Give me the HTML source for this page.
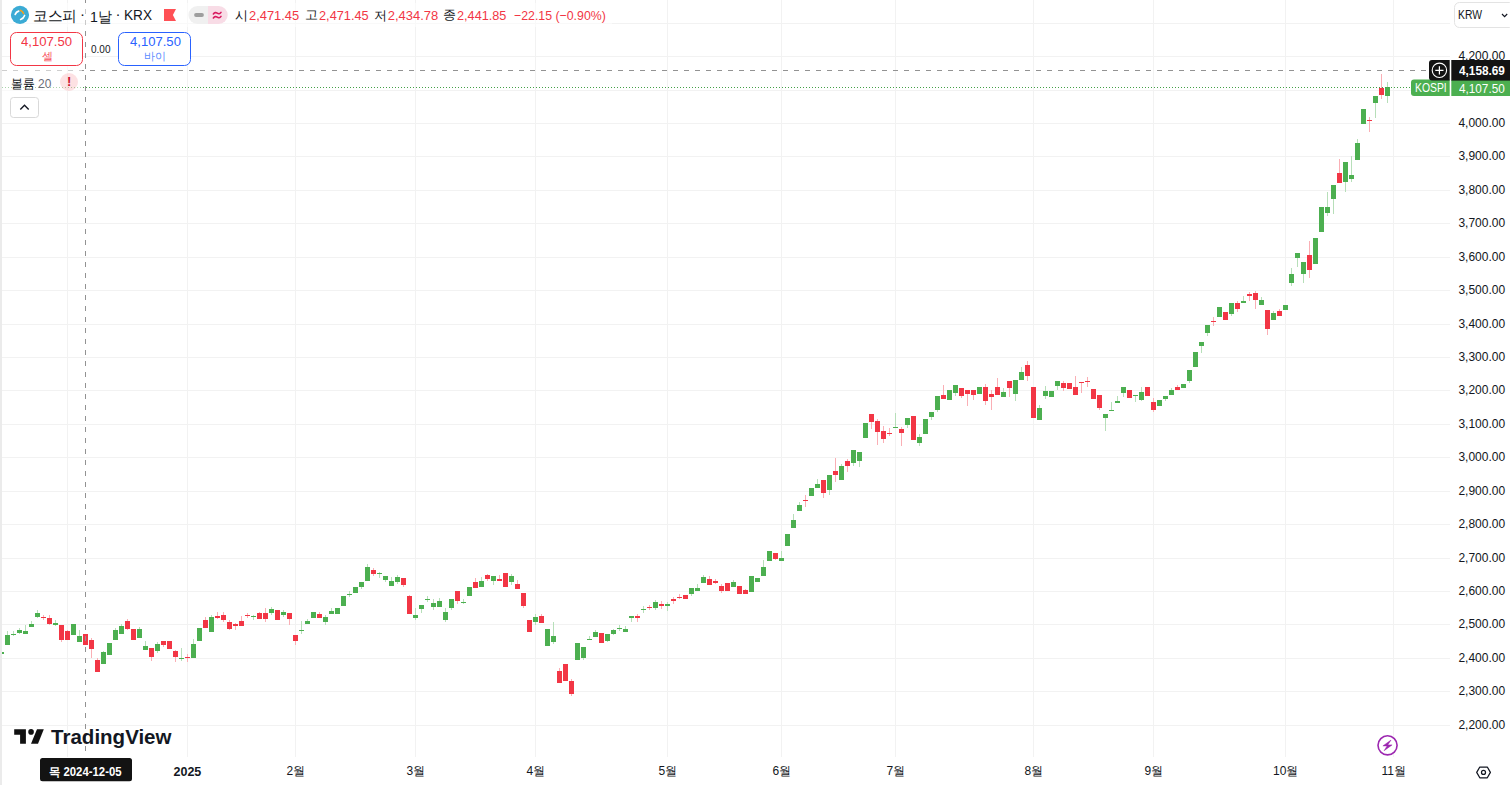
<!DOCTYPE html>
<html><head><meta charset="utf-8">
<style>
html,body{margin:0;padding:0;background:#fff;}
body{width:1510px;height:785px;overflow:hidden;position:relative;font-family:"Liberation Sans",sans-serif;color:#131722;}
.abs{position:absolute;}
.tx{position:absolute;white-space:nowrap;line-height:1;}
</style></head><body>
<svg width="1510" height="785" style="position:absolute;left:0;top:0" shape-rendering="crispEdges">
<defs><clipPath id="pane"><rect x="2" y="0" width="1448" height="757"/></clipPath></defs>
<g clip-path="url(#pane)">
<rect x="2" y="23" width="1448" height="1" fill="#f2f2f2"/>
<rect x="2" y="56" width="1448" height="1" fill="#f2f2f2"/>
<rect x="2" y="90" width="1448" height="1" fill="#f2f2f2"/>
<rect x="2" y="123" width="1448" height="1" fill="#f2f2f2"/>
<rect x="2" y="156" width="1448" height="1" fill="#f2f2f2"/>
<rect x="2" y="190" width="1448" height="1" fill="#f2f2f2"/>
<rect x="2" y="223" width="1448" height="1" fill="#f2f2f2"/>
<rect x="2" y="257" width="1448" height="1" fill="#f2f2f2"/>
<rect x="2" y="290" width="1448" height="1" fill="#f2f2f2"/>
<rect x="2" y="324" width="1448" height="1" fill="#f2f2f2"/>
<rect x="2" y="357" width="1448" height="1" fill="#f2f2f2"/>
<rect x="2" y="390" width="1448" height="1" fill="#f2f2f2"/>
<rect x="2" y="424" width="1448" height="1" fill="#f2f2f2"/>
<rect x="2" y="457" width="1448" height="1" fill="#f2f2f2"/>
<rect x="2" y="491" width="1448" height="1" fill="#f2f2f2"/>
<rect x="2" y="524" width="1448" height="1" fill="#f2f2f2"/>
<rect x="2" y="558" width="1448" height="1" fill="#f2f2f2"/>
<rect x="2" y="591" width="1448" height="1" fill="#f2f2f2"/>
<rect x="2" y="624" width="1448" height="1" fill="#f2f2f2"/>
<rect x="2" y="658" width="1448" height="1" fill="#f2f2f2"/>
<rect x="2" y="691" width="1448" height="1" fill="#f2f2f2"/>
<rect x="2" y="725" width="1448" height="1" fill="#f2f2f2"/>
<rect x="67" y="0" width="1" height="757" fill="#f2f2f2"/>
<rect x="187" y="0" width="1" height="757" fill="#f2f2f2"/>
<rect x="295" y="0" width="1" height="757" fill="#f2f2f2"/>
<rect x="415" y="0" width="1" height="757" fill="#f2f2f2"/>
<rect x="535" y="0" width="1" height="757" fill="#f2f2f2"/>
<rect x="667" y="0" width="1" height="757" fill="#f2f2f2"/>
<rect x="781" y="0" width="1" height="757" fill="#f2f2f2"/>
<rect x="895" y="0" width="1" height="757" fill="#f2f2f2"/>
<rect x="1033" y="0" width="1" height="757" fill="#f2f2f2"/>
<rect x="1153" y="0" width="1" height="757" fill="#f2f2f2"/>
<rect x="1285" y="0" width="1" height="757" fill="#f2f2f2"/>
<rect x="1393" y="0" width="1" height="757" fill="#f2f2f2"/>
<rect x="-1" y="652" width="5" height="2" fill="#4caf50"/>
<rect x="7" y="631" width="1" height="4" fill="#b7dfb9"/>
<rect x="5" y="635" width="5" height="10" fill="#4caf50"/>
<rect x="13" y="631" width="1" height="3" fill="#b7dfb9"/>
<rect x="13" y="635" width="1" height="1" fill="#b7dfb9"/>
<rect x="11" y="634" width="5" height="1" fill="#4caf50"/>
<rect x="19" y="628" width="1" height="2" fill="#b7dfb9"/>
<rect x="19" y="633" width="1" height="1" fill="#b7dfb9"/>
<rect x="17" y="630" width="5" height="3" fill="#4caf50"/>
<rect x="25" y="625" width="1" height="6" fill="#b7dfb9"/>
<rect x="23" y="631" width="5" height="3" fill="#4caf50"/>
<rect x="31" y="621" width="1" height="3" fill="#b7dfb9"/>
<rect x="29" y="624" width="5" height="3" fill="#4caf50"/>
<rect x="37" y="610" width="1" height="3" fill="#b7dfb9"/>
<rect x="37" y="617" width="1" height="1" fill="#b7dfb9"/>
<rect x="35" y="613" width="5" height="4" fill="#4caf50"/>
<rect x="43" y="615" width="1" height="2" fill="#faafb5"/>
<rect x="43" y="618" width="1" height="2" fill="#faafb5"/>
<rect x="41" y="617" width="5" height="1" fill="#f23645"/>
<rect x="49" y="615" width="1" height="3" fill="#faafb5"/>
<rect x="49" y="624" width="1" height="1" fill="#faafb5"/>
<rect x="47" y="618" width="5" height="6" fill="#f23645"/>
<rect x="55" y="620" width="1" height="3" fill="#b7dfb9"/>
<rect x="55" y="625" width="1" height="1" fill="#b7dfb9"/>
<rect x="53" y="623" width="5" height="2" fill="#4caf50"/>
<rect x="61" y="640" width="1" height="2" fill="#faafb5"/>
<rect x="59" y="625" width="5" height="15" fill="#f23645"/>
<rect x="67" y="630" width="1" height="1" fill="#faafb5"/>
<rect x="65" y="631" width="5" height="9" fill="#f23645"/>
<rect x="71" y="624" width="5" height="11" fill="#4caf50"/>
<rect x="79" y="630" width="1" height="6" fill="#b7dfb9"/>
<rect x="77" y="636" width="5" height="6" fill="#4caf50"/>
<rect x="83" y="634" width="5" height="11" fill="#f23645"/>
<rect x="91" y="638" width="1" height="2" fill="#faafb5"/>
<rect x="91" y="649" width="1" height="9" fill="#faafb5"/>
<rect x="89" y="640" width="5" height="9" fill="#f23645"/>
<rect x="97" y="658" width="1" height="2" fill="#faafb5"/>
<rect x="95" y="660" width="5" height="12" fill="#f23645"/>
<rect x="103" y="651" width="1" height="1" fill="#b7dfb9"/>
<rect x="101" y="652" width="5" height="12" fill="#4caf50"/>
<rect x="107" y="643" width="5" height="12" fill="#4caf50"/>
<rect x="115" y="628" width="1" height="2" fill="#b7dfb9"/>
<rect x="113" y="630" width="5" height="10" fill="#4caf50"/>
<rect x="121" y="624" width="1" height="2" fill="#b7dfb9"/>
<rect x="119" y="626" width="5" height="8" fill="#4caf50"/>
<rect x="127" y="619" width="1" height="2" fill="#faafb5"/>
<rect x="127" y="629" width="1" height="1" fill="#faafb5"/>
<rect x="125" y="621" width="5" height="8" fill="#f23645"/>
<rect x="131" y="629" width="5" height="11" fill="#f23645"/>
<rect x="139" y="627" width="1" height="2" fill="#b7dfb9"/>
<rect x="137" y="629" width="5" height="9" fill="#4caf50"/>
<rect x="145" y="641" width="1" height="5" fill="#b7dfb9"/>
<rect x="143" y="646" width="5" height="4" fill="#4caf50"/>
<rect x="151" y="657" width="1" height="4" fill="#faafb5"/>
<rect x="149" y="648" width="5" height="9" fill="#f23645"/>
<rect x="157" y="642" width="1" height="2" fill="#b7dfb9"/>
<rect x="157" y="651" width="1" height="2" fill="#b7dfb9"/>
<rect x="155" y="644" width="5" height="7" fill="#4caf50"/>
<rect x="163" y="645" width="1" height="2" fill="#faafb5"/>
<rect x="161" y="641" width="5" height="4" fill="#f23645"/>
<rect x="167" y="641" width="5" height="8" fill="#f23645"/>
<rect x="175" y="650" width="1" height="1" fill="#faafb5"/>
<rect x="175" y="657" width="1" height="5" fill="#faafb5"/>
<rect x="173" y="651" width="5" height="6" fill="#f23645"/>
<rect x="181" y="648" width="1" height="10" fill="#b7dfb9"/>
<rect x="181" y="659" width="1" height="2" fill="#b7dfb9"/>
<rect x="179" y="658" width="5" height="1" fill="#4caf50"/>
<rect x="187" y="654" width="1" height="3" fill="#faafb5"/>
<rect x="187" y="658" width="1" height="4" fill="#faafb5"/>
<rect x="185" y="657" width="5" height="1" fill="#f23645"/>
<rect x="193" y="639" width="1" height="5" fill="#b7dfb9"/>
<rect x="191" y="644" width="5" height="14" fill="#4caf50"/>
<rect x="197" y="628" width="5" height="13" fill="#4caf50"/>
<rect x="205" y="617" width="1" height="3" fill="#faafb5"/>
<rect x="203" y="620" width="5" height="8" fill="#f23645"/>
<rect x="211" y="615" width="1" height="2" fill="#b7dfb9"/>
<rect x="209" y="617" width="5" height="15" fill="#4caf50"/>
<rect x="217" y="612" width="1" height="4" fill="#faafb5"/>
<rect x="217" y="618" width="1" height="1" fill="#faafb5"/>
<rect x="215" y="616" width="5" height="2" fill="#f23645"/>
<rect x="223" y="612" width="1" height="3" fill="#faafb5"/>
<rect x="223" y="620" width="1" height="2" fill="#faafb5"/>
<rect x="221" y="615" width="5" height="5" fill="#f23645"/>
<rect x="229" y="620" width="1" height="2" fill="#faafb5"/>
<rect x="229" y="629" width="1" height="1" fill="#faafb5"/>
<rect x="227" y="622" width="5" height="7" fill="#f23645"/>
<rect x="235" y="623" width="1" height="1" fill="#faafb5"/>
<rect x="235" y="626" width="1" height="4" fill="#faafb5"/>
<rect x="233" y="624" width="5" height="2" fill="#f23645"/>
<rect x="241" y="616" width="1" height="5" fill="#faafb5"/>
<rect x="239" y="621" width="5" height="5" fill="#f23645"/>
<rect x="247" y="613" width="1" height="2" fill="#faafb5"/>
<rect x="247" y="616" width="1" height="2" fill="#faafb5"/>
<rect x="245" y="615" width="5" height="1" fill="#f23645"/>
<rect x="253" y="615" width="1" height="1" fill="#b7dfb9"/>
<rect x="253" y="617" width="1" height="3" fill="#b7dfb9"/>
<rect x="251" y="616" width="5" height="1" fill="#4caf50"/>
<rect x="259" y="612" width="1" height="1" fill="#faafb5"/>
<rect x="257" y="613" width="5" height="6" fill="#f23645"/>
<rect x="265" y="608" width="1" height="5" fill="#faafb5"/>
<rect x="265" y="619" width="1" height="3" fill="#faafb5"/>
<rect x="263" y="613" width="5" height="6" fill="#f23645"/>
<rect x="271" y="607" width="1" height="2" fill="#b7dfb9"/>
<rect x="271" y="613" width="1" height="2" fill="#b7dfb9"/>
<rect x="269" y="609" width="5" height="4" fill="#4caf50"/>
<rect x="275" y="610" width="5" height="10" fill="#f23645"/>
<rect x="283" y="610" width="1" height="2" fill="#b7dfb9"/>
<rect x="283" y="615" width="1" height="2" fill="#b7dfb9"/>
<rect x="281" y="612" width="5" height="3" fill="#4caf50"/>
<rect x="289" y="619" width="1" height="6" fill="#faafb5"/>
<rect x="287" y="613" width="5" height="6" fill="#f23645"/>
<rect x="295" y="641" width="1" height="4" fill="#faafb5"/>
<rect x="293" y="635" width="5" height="6" fill="#f23645"/>
<rect x="301" y="621" width="1" height="9" fill="#b7dfb9"/>
<rect x="301" y="631" width="1" height="3" fill="#b7dfb9"/>
<rect x="299" y="630" width="5" height="1" fill="#4caf50"/>
<rect x="307" y="619" width="1" height="2" fill="#b7dfb9"/>
<rect x="305" y="621" width="5" height="3" fill="#4caf50"/>
<rect x="311" y="612" width="5" height="6" fill="#4caf50"/>
<rect x="319" y="612" width="1" height="2" fill="#faafb5"/>
<rect x="317" y="614" width="5" height="4" fill="#f23645"/>
<rect x="325" y="615" width="1" height="2" fill="#b7dfb9"/>
<rect x="325" y="622" width="1" height="3" fill="#b7dfb9"/>
<rect x="323" y="617" width="5" height="5" fill="#4caf50"/>
<rect x="331" y="608" width="1" height="3" fill="#b7dfb9"/>
<rect x="329" y="611" width="5" height="3" fill="#4caf50"/>
<rect x="335" y="608" width="5" height="6" fill="#4caf50"/>
<rect x="341" y="596" width="5" height="10" fill="#4caf50"/>
<rect x="349" y="591" width="1" height="3" fill="#b7dfb9"/>
<rect x="349" y="595" width="1" height="2" fill="#b7dfb9"/>
<rect x="347" y="594" width="5" height="1" fill="#4caf50"/>
<rect x="353" y="587" width="5" height="6" fill="#4caf50"/>
<rect x="361" y="587" width="1" height="2" fill="#b7dfb9"/>
<rect x="359" y="582" width="5" height="5" fill="#4caf50"/>
<rect x="367" y="564" width="1" height="3" fill="#b7dfb9"/>
<rect x="365" y="567" width="5" height="14" fill="#4caf50"/>
<rect x="373" y="568" width="1" height="2" fill="#faafb5"/>
<rect x="373" y="574" width="1" height="2" fill="#faafb5"/>
<rect x="371" y="570" width="5" height="4" fill="#f23645"/>
<rect x="379" y="572" width="1" height="1" fill="#b7dfb9"/>
<rect x="379" y="574" width="1" height="4" fill="#b7dfb9"/>
<rect x="377" y="573" width="5" height="1" fill="#4caf50"/>
<rect x="385" y="580" width="1" height="2" fill="#b7dfb9"/>
<rect x="383" y="576" width="5" height="4" fill="#4caf50"/>
<rect x="391" y="577" width="1" height="4" fill="#b7dfb9"/>
<rect x="389" y="581" width="5" height="5" fill="#4caf50"/>
<rect x="397" y="575" width="1" height="2" fill="#b7dfb9"/>
<rect x="397" y="582" width="1" height="2" fill="#b7dfb9"/>
<rect x="395" y="577" width="5" height="5" fill="#4caf50"/>
<rect x="403" y="585" width="1" height="2" fill="#faafb5"/>
<rect x="401" y="578" width="5" height="7" fill="#f23645"/>
<rect x="409" y="595" width="1" height="1" fill="#faafb5"/>
<rect x="407" y="596" width="5" height="18" fill="#f23645"/>
<rect x="415" y="608" width="1" height="7" fill="#b7dfb9"/>
<rect x="415" y="618" width="1" height="2" fill="#b7dfb9"/>
<rect x="413" y="615" width="5" height="3" fill="#4caf50"/>
<rect x="421" y="609" width="1" height="4" fill="#b7dfb9"/>
<rect x="419" y="605" width="5" height="4" fill="#4caf50"/>
<rect x="427" y="596" width="1" height="3" fill="#b7dfb9"/>
<rect x="427" y="600" width="1" height="2" fill="#b7dfb9"/>
<rect x="425" y="599" width="5" height="1" fill="#4caf50"/>
<rect x="433" y="599" width="1" height="4" fill="#b7dfb9"/>
<rect x="433" y="607" width="1" height="3" fill="#b7dfb9"/>
<rect x="431" y="603" width="5" height="4" fill="#4caf50"/>
<rect x="439" y="598" width="1" height="3" fill="#b7dfb9"/>
<rect x="437" y="601" width="5" height="6" fill="#4caf50"/>
<rect x="445" y="608" width="1" height="4" fill="#b7dfb9"/>
<rect x="445" y="620" width="1" height="2" fill="#b7dfb9"/>
<rect x="443" y="612" width="5" height="8" fill="#4caf50"/>
<rect x="451" y="608" width="1" height="2" fill="#b7dfb9"/>
<rect x="449" y="599" width="5" height="9" fill="#4caf50"/>
<rect x="457" y="601" width="1" height="3" fill="#faafb5"/>
<rect x="455" y="591" width="5" height="10" fill="#f23645"/>
<rect x="463" y="599" width="1" height="3" fill="#b7dfb9"/>
<rect x="463" y="603" width="1" height="1" fill="#b7dfb9"/>
<rect x="461" y="602" width="5" height="1" fill="#4caf50"/>
<rect x="467" y="587" width="5" height="9" fill="#4caf50"/>
<rect x="475" y="578" width="1" height="4" fill="#faafb5"/>
<rect x="473" y="582" width="5" height="6" fill="#f23645"/>
<rect x="481" y="577" width="1" height="4" fill="#b7dfb9"/>
<rect x="479" y="581" width="5" height="6" fill="#4caf50"/>
<rect x="487" y="574" width="1" height="1" fill="#faafb5"/>
<rect x="487" y="579" width="1" height="2" fill="#faafb5"/>
<rect x="485" y="575" width="5" height="4" fill="#f23645"/>
<rect x="493" y="581" width="1" height="4" fill="#b7dfb9"/>
<rect x="491" y="576" width="5" height="5" fill="#4caf50"/>
<rect x="499" y="575" width="1" height="4" fill="#faafb5"/>
<rect x="497" y="579" width="5" height="2" fill="#f23645"/>
<rect x="503" y="573" width="5" height="14" fill="#f23645"/>
<rect x="511" y="574" width="1" height="2" fill="#b7dfb9"/>
<rect x="511" y="582" width="1" height="3" fill="#b7dfb9"/>
<rect x="509" y="576" width="5" height="6" fill="#4caf50"/>
<rect x="517" y="580" width="1" height="4" fill="#faafb5"/>
<rect x="515" y="584" width="5" height="5" fill="#f23645"/>
<rect x="523" y="606" width="1" height="2" fill="#faafb5"/>
<rect x="521" y="593" width="5" height="13" fill="#f23645"/>
<rect x="527" y="620" width="5" height="12" fill="#f23645"/>
<rect x="535" y="614" width="1" height="3" fill="#b7dfb9"/>
<rect x="535" y="622" width="1" height="3" fill="#b7dfb9"/>
<rect x="533" y="617" width="5" height="5" fill="#4caf50"/>
<rect x="541" y="614" width="1" height="2" fill="#faafb5"/>
<rect x="539" y="616" width="5" height="7" fill="#f23645"/>
<rect x="545" y="629" width="5" height="17" fill="#4caf50"/>
<rect x="553" y="622" width="1" height="14" fill="#b7dfb9"/>
<rect x="553" y="642" width="1" height="2" fill="#b7dfb9"/>
<rect x="551" y="636" width="5" height="6" fill="#4caf50"/>
<rect x="559" y="668" width="1" height="3" fill="#faafb5"/>
<rect x="557" y="671" width="5" height="12" fill="#f23645"/>
<rect x="563" y="664" width="5" height="17" fill="#f23645"/>
<rect x="571" y="679" width="1" height="2" fill="#faafb5"/>
<rect x="571" y="694" width="1" height="2" fill="#faafb5"/>
<rect x="569" y="681" width="5" height="13" fill="#f23645"/>
<rect x="575" y="643" width="5" height="17" fill="#4caf50"/>
<rect x="583" y="658" width="1" height="2" fill="#b7dfb9"/>
<rect x="581" y="647" width="5" height="11" fill="#4caf50"/>
<rect x="589" y="636" width="1" height="3" fill="#b7dfb9"/>
<rect x="587" y="639" width="5" height="1" fill="#4caf50"/>
<rect x="595" y="630" width="1" height="2" fill="#b7dfb9"/>
<rect x="593" y="632" width="5" height="5" fill="#4caf50"/>
<rect x="599" y="633" width="5" height="10" fill="#f23645"/>
<rect x="607" y="641" width="1" height="1" fill="#b7dfb9"/>
<rect x="605" y="634" width="5" height="7" fill="#4caf50"/>
<rect x="613" y="629" width="1" height="1" fill="#b7dfb9"/>
<rect x="613" y="634" width="1" height="1" fill="#b7dfb9"/>
<rect x="611" y="630" width="5" height="4" fill="#4caf50"/>
<rect x="619" y="625" width="1" height="3" fill="#b7dfb9"/>
<rect x="619" y="629" width="1" height="2" fill="#b7dfb9"/>
<rect x="617" y="628" width="5" height="1" fill="#4caf50"/>
<rect x="625" y="626" width="1" height="3" fill="#b7dfb9"/>
<rect x="623" y="629" width="5" height="3" fill="#4caf50"/>
<rect x="631" y="618" width="1" height="4" fill="#b7dfb9"/>
<rect x="629" y="616" width="5" height="2" fill="#4caf50"/>
<rect x="637" y="614" width="1" height="2" fill="#faafb5"/>
<rect x="637" y="618" width="1" height="4" fill="#faafb5"/>
<rect x="635" y="616" width="5" height="2" fill="#f23645"/>
<rect x="643" y="606" width="1" height="3" fill="#b7dfb9"/>
<rect x="643" y="610" width="1" height="3" fill="#b7dfb9"/>
<rect x="641" y="609" width="5" height="1" fill="#4caf50"/>
<rect x="649" y="605" width="1" height="2" fill="#faafb5"/>
<rect x="649" y="608" width="1" height="2" fill="#faafb5"/>
<rect x="647" y="607" width="5" height="1" fill="#f23645"/>
<rect x="655" y="600" width="1" height="2" fill="#b7dfb9"/>
<rect x="655" y="608" width="1" height="2" fill="#b7dfb9"/>
<rect x="653" y="602" width="5" height="6" fill="#4caf50"/>
<rect x="661" y="601" width="1" height="3" fill="#faafb5"/>
<rect x="661" y="606" width="1" height="3" fill="#faafb5"/>
<rect x="659" y="604" width="5" height="2" fill="#f23645"/>
<rect x="667" y="602" width="1" height="2" fill="#b7dfb9"/>
<rect x="667" y="606" width="1" height="5" fill="#b7dfb9"/>
<rect x="665" y="604" width="5" height="2" fill="#4caf50"/>
<rect x="673" y="597" width="1" height="2" fill="#faafb5"/>
<rect x="673" y="601" width="1" height="3" fill="#faafb5"/>
<rect x="671" y="599" width="5" height="2" fill="#f23645"/>
<rect x="679" y="594" width="1" height="3" fill="#faafb5"/>
<rect x="679" y="598" width="1" height="1" fill="#faafb5"/>
<rect x="677" y="597" width="5" height="1" fill="#f23645"/>
<rect x="683" y="595" width="5" height="4" fill="#f23645"/>
<rect x="691" y="594" width="1" height="2" fill="#b7dfb9"/>
<rect x="689" y="588" width="5" height="6" fill="#4caf50"/>
<rect x="697" y="584" width="1" height="4" fill="#b7dfb9"/>
<rect x="695" y="588" width="5" height="3" fill="#4caf50"/>
<rect x="703" y="575" width="1" height="2" fill="#b7dfb9"/>
<rect x="701" y="577" width="5" height="6" fill="#4caf50"/>
<rect x="709" y="576" width="1" height="3" fill="#faafb5"/>
<rect x="707" y="579" width="5" height="6" fill="#f23645"/>
<rect x="715" y="579" width="1" height="2" fill="#faafb5"/>
<rect x="715" y="583" width="1" height="1" fill="#faafb5"/>
<rect x="713" y="581" width="5" height="2" fill="#f23645"/>
<rect x="721" y="584" width="1" height="2" fill="#faafb5"/>
<rect x="721" y="591" width="1" height="2" fill="#faafb5"/>
<rect x="719" y="586" width="5" height="5" fill="#f23645"/>
<rect x="725" y="583" width="5" height="8" fill="#f23645"/>
<rect x="733" y="580" width="1" height="2" fill="#b7dfb9"/>
<rect x="731" y="582" width="5" height="5" fill="#4caf50"/>
<rect x="737" y="586" width="5" height="8" fill="#f23645"/>
<rect x="745" y="589" width="1" height="1" fill="#faafb5"/>
<rect x="743" y="590" width="5" height="4" fill="#f23645"/>
<rect x="749" y="576" width="5" height="16" fill="#4caf50"/>
<rect x="755" y="578" width="5" height="4" fill="#4caf50"/>
<rect x="763" y="560" width="1" height="7" fill="#b7dfb9"/>
<rect x="761" y="567" width="5" height="9" fill="#4caf50"/>
<rect x="767" y="551" width="5" height="10" fill="#4caf50"/>
<rect x="775" y="559" width="1" height="1" fill="#faafb5"/>
<rect x="773" y="553" width="5" height="6" fill="#f23645"/>
<rect x="781" y="551" width="1" height="7" fill="#b7dfb9"/>
<rect x="779" y="558" width="5" height="3" fill="#4caf50"/>
<rect x="785" y="534" width="5" height="12" fill="#4caf50"/>
<rect x="793" y="514" width="1" height="6" fill="#b7dfb9"/>
<rect x="791" y="520" width="5" height="8" fill="#4caf50"/>
<rect x="799" y="502" width="1" height="3" fill="#b7dfb9"/>
<rect x="797" y="505" width="5" height="6" fill="#4caf50"/>
<rect x="805" y="495" width="1" height="5" fill="#faafb5"/>
<rect x="805" y="501" width="1" height="6" fill="#faafb5"/>
<rect x="803" y="500" width="5" height="1" fill="#f23645"/>
<rect x="809" y="488" width="5" height="8" fill="#4caf50"/>
<rect x="817" y="479" width="1" height="5" fill="#b7dfb9"/>
<rect x="815" y="484" width="5" height="4" fill="#4caf50"/>
<rect x="823" y="493" width="1" height="5" fill="#faafb5"/>
<rect x="821" y="480" width="5" height="13" fill="#f23645"/>
<rect x="829" y="490" width="1" height="5" fill="#b7dfb9"/>
<rect x="827" y="475" width="5" height="15" fill="#4caf50"/>
<rect x="835" y="458" width="1" height="13" fill="#faafb5"/>
<rect x="835" y="475" width="1" height="7" fill="#faafb5"/>
<rect x="833" y="471" width="5" height="4" fill="#f23645"/>
<rect x="841" y="464" width="1" height="2" fill="#b7dfb9"/>
<rect x="839" y="466" width="5" height="14" fill="#4caf50"/>
<rect x="847" y="459" width="1" height="2" fill="#faafb5"/>
<rect x="847" y="466" width="1" height="6" fill="#faafb5"/>
<rect x="845" y="461" width="5" height="5" fill="#f23645"/>
<rect x="853" y="463" width="1" height="3" fill="#b7dfb9"/>
<rect x="851" y="450" width="5" height="13" fill="#4caf50"/>
<rect x="859" y="461" width="1" height="6" fill="#b7dfb9"/>
<rect x="857" y="452" width="5" height="9" fill="#4caf50"/>
<rect x="863" y="423" width="5" height="15" fill="#4caf50"/>
<rect x="871" y="422" width="1" height="7" fill="#faafb5"/>
<rect x="869" y="414" width="5" height="8" fill="#f23645"/>
<rect x="877" y="419" width="1" height="2" fill="#faafb5"/>
<rect x="877" y="432" width="1" height="13" fill="#faafb5"/>
<rect x="875" y="421" width="5" height="11" fill="#f23645"/>
<rect x="883" y="426" width="1" height="5" fill="#faafb5"/>
<rect x="883" y="439" width="1" height="4" fill="#faafb5"/>
<rect x="881" y="431" width="5" height="8" fill="#f23645"/>
<rect x="889" y="428" width="1" height="5" fill="#faafb5"/>
<rect x="889" y="434" width="1" height="2" fill="#faafb5"/>
<rect x="887" y="433" width="5" height="1" fill="#f23645"/>
<rect x="895" y="413" width="1" height="14" fill="#b7dfb9"/>
<rect x="893" y="427" width="5" height="1" fill="#4caf50"/>
<rect x="901" y="427" width="1" height="2" fill="#faafb5"/>
<rect x="901" y="433" width="1" height="13" fill="#faafb5"/>
<rect x="899" y="429" width="5" height="4" fill="#f23645"/>
<rect x="907" y="425" width="1" height="3" fill="#b7dfb9"/>
<rect x="905" y="418" width="5" height="7" fill="#4caf50"/>
<rect x="911" y="416" width="5" height="24" fill="#f23645"/>
<rect x="919" y="434" width="1" height="3" fill="#b7dfb9"/>
<rect x="919" y="443" width="1" height="3" fill="#b7dfb9"/>
<rect x="917" y="437" width="5" height="6" fill="#4caf50"/>
<rect x="923" y="419" width="5" height="15" fill="#4caf50"/>
<rect x="931" y="417" width="1" height="3" fill="#b7dfb9"/>
<rect x="929" y="412" width="5" height="5" fill="#4caf50"/>
<rect x="937" y="410" width="1" height="2" fill="#b7dfb9"/>
<rect x="935" y="396" width="5" height="14" fill="#4caf50"/>
<rect x="943" y="385" width="1" height="10" fill="#faafb5"/>
<rect x="941" y="395" width="5" height="4" fill="#f23645"/>
<rect x="947" y="390" width="5" height="10" fill="#4caf50"/>
<rect x="955" y="393" width="1" height="3" fill="#b7dfb9"/>
<rect x="953" y="385" width="5" height="8" fill="#4caf50"/>
<rect x="961" y="396" width="1" height="2" fill="#faafb5"/>
<rect x="959" y="388" width="5" height="8" fill="#f23645"/>
<rect x="967" y="394" width="1" height="12" fill="#faafb5"/>
<rect x="965" y="390" width="5" height="4" fill="#f23645"/>
<rect x="973" y="395" width="1" height="5" fill="#faafb5"/>
<rect x="971" y="390" width="5" height="5" fill="#f23645"/>
<rect x="977" y="387" width="5" height="7" fill="#4caf50"/>
<rect x="985" y="384" width="1" height="3" fill="#faafb5"/>
<rect x="985" y="401" width="1" height="4" fill="#faafb5"/>
<rect x="983" y="387" width="5" height="14" fill="#f23645"/>
<rect x="991" y="390" width="1" height="4" fill="#faafb5"/>
<rect x="991" y="397" width="1" height="13" fill="#faafb5"/>
<rect x="989" y="394" width="5" height="3" fill="#f23645"/>
<rect x="997" y="378" width="1" height="9" fill="#faafb5"/>
<rect x="995" y="387" width="5" height="8" fill="#f23645"/>
<rect x="1003" y="388" width="1" height="4" fill="#b7dfb9"/>
<rect x="1001" y="392" width="5" height="5" fill="#4caf50"/>
<rect x="1009" y="388" width="1" height="9" fill="#faafb5"/>
<rect x="1007" y="381" width="5" height="7" fill="#f23645"/>
<rect x="1015" y="394" width="1" height="7" fill="#b7dfb9"/>
<rect x="1013" y="380" width="5" height="14" fill="#4caf50"/>
<rect x="1021" y="367" width="1" height="5" fill="#b7dfb9"/>
<rect x="1019" y="372" width="5" height="8" fill="#4caf50"/>
<rect x="1027" y="361" width="1" height="4" fill="#faafb5"/>
<rect x="1027" y="376" width="1" height="5" fill="#faafb5"/>
<rect x="1025" y="365" width="5" height="11" fill="#f23645"/>
<rect x="1031" y="387" width="5" height="31" fill="#f23645"/>
<rect x="1039" y="405" width="1" height="3" fill="#b7dfb9"/>
<rect x="1037" y="408" width="5" height="12" fill="#4caf50"/>
<rect x="1045" y="386" width="1" height="5" fill="#b7dfb9"/>
<rect x="1045" y="396" width="1" height="3" fill="#b7dfb9"/>
<rect x="1043" y="391" width="5" height="5" fill="#4caf50"/>
<rect x="1049" y="391" width="5" height="6" fill="#4caf50"/>
<rect x="1057" y="386" width="1" height="4" fill="#b7dfb9"/>
<rect x="1055" y="381" width="5" height="5" fill="#4caf50"/>
<rect x="1063" y="381" width="1" height="2" fill="#faafb5"/>
<rect x="1063" y="388" width="1" height="3" fill="#faafb5"/>
<rect x="1061" y="383" width="5" height="5" fill="#f23645"/>
<rect x="1067" y="383" width="5" height="6" fill="#f23645"/>
<rect x="1075" y="376" width="1" height="11" fill="#faafb5"/>
<rect x="1073" y="387" width="5" height="8" fill="#f23645"/>
<rect x="1081" y="383" width="1" height="10" fill="#faafb5"/>
<rect x="1079" y="382" width="5" height="1" fill="#f23645"/>
<rect x="1087" y="377" width="1" height="4" fill="#faafb5"/>
<rect x="1087" y="382" width="1" height="5" fill="#faafb5"/>
<rect x="1085" y="381" width="5" height="1" fill="#f23645"/>
<rect x="1091" y="389" width="5" height="10" fill="#f23645"/>
<rect x="1099" y="408" width="1" height="2" fill="#faafb5"/>
<rect x="1097" y="395" width="5" height="13" fill="#f23645"/>
<rect x="1105" y="418" width="1" height="13" fill="#b7dfb9"/>
<rect x="1103" y="414" width="5" height="4" fill="#4caf50"/>
<rect x="1111" y="402" width="1" height="8" fill="#b7dfb9"/>
<rect x="1109" y="410" width="5" height="1" fill="#4caf50"/>
<rect x="1117" y="396" width="1" height="5" fill="#b7dfb9"/>
<rect x="1115" y="401" width="5" height="2" fill="#4caf50"/>
<rect x="1123" y="393" width="1" height="4" fill="#b7dfb9"/>
<rect x="1121" y="387" width="5" height="6" fill="#4caf50"/>
<rect x="1127" y="390" width="5" height="8" fill="#f23645"/>
<rect x="1135" y="396" width="1" height="6" fill="#b7dfb9"/>
<rect x="1133" y="395" width="5" height="1" fill="#4caf50"/>
<rect x="1141" y="387" width="1" height="5" fill="#b7dfb9"/>
<rect x="1141" y="400" width="1" height="1" fill="#b7dfb9"/>
<rect x="1139" y="392" width="5" height="8" fill="#4caf50"/>
<rect x="1145" y="387" width="5" height="9" fill="#f23645"/>
<rect x="1153" y="398" width="1" height="4" fill="#faafb5"/>
<rect x="1153" y="410" width="1" height="2" fill="#faafb5"/>
<rect x="1151" y="402" width="5" height="8" fill="#f23645"/>
<rect x="1157" y="400" width="5" height="6" fill="#4caf50"/>
<rect x="1165" y="399" width="1" height="2" fill="#b7dfb9"/>
<rect x="1163" y="396" width="5" height="3" fill="#4caf50"/>
<rect x="1171" y="388" width="1" height="2" fill="#b7dfb9"/>
<rect x="1169" y="390" width="5" height="5" fill="#4caf50"/>
<rect x="1177" y="385" width="1" height="2" fill="#faafb5"/>
<rect x="1175" y="387" width="5" height="3" fill="#f23645"/>
<rect x="1181" y="384" width="5" height="4" fill="#4caf50"/>
<rect x="1189" y="381" width="1" height="2" fill="#b7dfb9"/>
<rect x="1187" y="370" width="5" height="11" fill="#4caf50"/>
<rect x="1193" y="352" width="5" height="15" fill="#4caf50"/>
<rect x="1201" y="346" width="1" height="7" fill="#b7dfb9"/>
<rect x="1199" y="342" width="5" height="4" fill="#4caf50"/>
<rect x="1207" y="333" width="1" height="3" fill="#b7dfb9"/>
<rect x="1205" y="325" width="5" height="8" fill="#4caf50"/>
<rect x="1213" y="317" width="1" height="4" fill="#faafb5"/>
<rect x="1213" y="322" width="1" height="4" fill="#faafb5"/>
<rect x="1211" y="321" width="5" height="1" fill="#f23645"/>
<rect x="1217" y="307" width="5" height="10" fill="#4caf50"/>
<rect x="1223" y="312" width="5" height="8" fill="#f23645"/>
<rect x="1231" y="314" width="1" height="2" fill="#b7dfb9"/>
<rect x="1229" y="303" width="5" height="11" fill="#4caf50"/>
<rect x="1237" y="301" width="1" height="2" fill="#faafb5"/>
<rect x="1237" y="309" width="1" height="3" fill="#faafb5"/>
<rect x="1235" y="303" width="5" height="6" fill="#f23645"/>
<rect x="1243" y="296" width="1" height="5" fill="#b7dfb9"/>
<rect x="1241" y="301" width="5" height="2" fill="#4caf50"/>
<rect x="1249" y="292" width="1" height="2" fill="#faafb5"/>
<rect x="1249" y="296" width="1" height="5" fill="#faafb5"/>
<rect x="1247" y="294" width="5" height="2" fill="#f23645"/>
<rect x="1255" y="291" width="1" height="2" fill="#faafb5"/>
<rect x="1255" y="300" width="1" height="9" fill="#faafb5"/>
<rect x="1253" y="293" width="5" height="7" fill="#f23645"/>
<rect x="1261" y="297" width="1" height="3" fill="#b7dfb9"/>
<rect x="1259" y="300" width="5" height="5" fill="#4caf50"/>
<rect x="1267" y="329" width="1" height="6" fill="#faafb5"/>
<rect x="1265" y="310" width="5" height="19" fill="#f23645"/>
<rect x="1273" y="311" width="1" height="2" fill="#b7dfb9"/>
<rect x="1271" y="313" width="5" height="7" fill="#4caf50"/>
<rect x="1279" y="309" width="1" height="2" fill="#faafb5"/>
<rect x="1277" y="311" width="5" height="5" fill="#f23645"/>
<rect x="1283" y="305" width="5" height="5" fill="#4caf50"/>
<rect x="1291" y="268" width="1" height="6" fill="#b7dfb9"/>
<rect x="1291" y="283" width="1" height="3" fill="#b7dfb9"/>
<rect x="1289" y="274" width="5" height="9" fill="#4caf50"/>
<rect x="1297" y="258" width="1" height="9" fill="#b7dfb9"/>
<rect x="1295" y="253" width="5" height="5" fill="#4caf50"/>
<rect x="1303" y="274" width="1" height="9" fill="#b7dfb9"/>
<rect x="1301" y="262" width="5" height="12" fill="#4caf50"/>
<rect x="1309" y="241" width="1" height="14" fill="#faafb5"/>
<rect x="1309" y="270" width="1" height="8" fill="#faafb5"/>
<rect x="1307" y="255" width="5" height="15" fill="#f23645"/>
<rect x="1313" y="238" width="5" height="26" fill="#4caf50"/>
<rect x="1319" y="207" width="5" height="25" fill="#4caf50"/>
<rect x="1327" y="192" width="1" height="15" fill="#b7dfb9"/>
<rect x="1327" y="213" width="1" height="3" fill="#b7dfb9"/>
<rect x="1325" y="207" width="5" height="6" fill="#4caf50"/>
<rect x="1333" y="199" width="1" height="15" fill="#b7dfb9"/>
<rect x="1331" y="185" width="5" height="14" fill="#4caf50"/>
<rect x="1339" y="159" width="1" height="14" fill="#faafb5"/>
<rect x="1337" y="173" width="5" height="10" fill="#f23645"/>
<rect x="1345" y="182" width="1" height="10" fill="#b7dfb9"/>
<rect x="1343" y="162" width="5" height="20" fill="#4caf50"/>
<rect x="1351" y="156" width="1" height="19" fill="#b7dfb9"/>
<rect x="1351" y="179" width="1" height="3" fill="#b7dfb9"/>
<rect x="1349" y="175" width="5" height="4" fill="#4caf50"/>
<rect x="1357" y="139" width="1" height="4" fill="#b7dfb9"/>
<rect x="1355" y="143" width="5" height="17" fill="#4caf50"/>
<rect x="1361" y="109" width="5" height="15" fill="#4caf50"/>
<rect x="1369" y="117" width="1" height="3" fill="#faafb5"/>
<rect x="1369" y="121" width="1" height="11" fill="#faafb5"/>
<rect x="1367" y="120" width="5" height="1" fill="#f23645"/>
<rect x="1375" y="103" width="1" height="15" fill="#b7dfb9"/>
<rect x="1373" y="96" width="5" height="7" fill="#4caf50"/>
<rect x="1381" y="74" width="1" height="14" fill="#faafb5"/>
<rect x="1381" y="95" width="1" height="4" fill="#faafb5"/>
<rect x="1379" y="88" width="5" height="7" fill="#f23645"/>
<rect x="1387" y="82" width="1" height="5" fill="#b7dfb9"/>
<rect x="1387" y="96" width="1" height="7" fill="#b7dfb9"/>
<rect x="1385" y="87" width="5" height="9" fill="#4caf50"/>
<line x1="2" y1="87.5" x2="1411" y2="87.5" stroke="#43a047" stroke-width="1" stroke-dasharray="1 2"/>
<line x1="2" y1="70.5" x2="1429" y2="70.5" stroke="#929292" stroke-width="1" stroke-dasharray="5 6"/>
<line x1="85.5" y1="64" x2="85.5" y2="757" stroke="#929292" stroke-width="1" stroke-dasharray="5 6"/>
<line x1="85.5" y1="-2" x2="85.5" y2="64" stroke="#929292" stroke-width="1" stroke-dasharray="5 6" stroke-dashoffset="0"/>
</g>
<rect x="2" y="73" width="80" height="18" fill="rgba(255,255,255,0.55)"/>
<rect x="8" y="3" width="604" height="24" fill="rgba(255,255,255,0.5)"/>
<rect x="2" y="66" width="80" height="7" fill="rgba(255,255,255,0.55)"/>
</svg>
<div class="abs" style="left:0;top:0;width:2px;height:785px;background:#ebebeb"></div>
<svg class="abs" style="left:0;top:0" width="1510" height="785">
<!-- symbol icon -->
<circle cx="20" cy="14.9" r="9.1" fill="#3babd5"/>
<path d="M15.2 14.4Q16.2 11.8 18.7 11.1" stroke="#fff" stroke-width="1.7" fill="none" stroke-linecap="round"/>
<path d="M20.3 10.3Q22.6 11.2 23.5 13.4" stroke="#f5a01a" stroke-width="1.6" fill="none" stroke-linecap="round"/>
<path d="M24.6 15.4Q23.6 18.4 20.6 19.4" stroke="#fff" stroke-width="1.6" fill="none" stroke-linecap="round"/>
<!-- flag -->
<path d="M164 9H176L172.9 15L176 21H164Z" fill="#ff5055"/>
<!-- pill -->
<path d="M197.4 6H208V24H197.4A9 9 0 0 1 197.4 6Z" fill="#f0f0f0"/>
<path d="M208 6H218.7A9 9 0 0 1 218.7 24H208Z" fill="#f8dce6"/>
<rect x="194.1" y="13.1" width="9.8" height="3.8" rx="1.9" fill="#9e9e9e"/>
<path d="M213.4 14C214.6 12.3 216 12.3 217.2 13.2C218.4 14.1 219.8 14.1 221 12.4M213.4 18C214.6 16.3 216 16.3 217.2 17.2C218.4 18.1 219.8 18.1 221 16.4" stroke="#d81b60" stroke-width="1.6" fill="none" stroke-linecap="round"/>
<!-- sell / buy boxes -->
<rect x="10.5" y="32.5" width="72" height="33" rx="6" fill="#fff" stroke="#f23645" stroke-width="1"/>
<rect x="118.5" y="32.5" width="72" height="33" rx="6" fill="#fff" stroke="#2962ff" stroke-width="1"/>
<!-- alert circle -->
<circle cx="69" cy="82" r="9" fill="rgba(242,54,69,0.15)"/>
<!-- collapse button -->
<rect x="10.5" y="97.5" width="28" height="20" rx="3" fill="#fff" stroke="#d9d9d9" stroke-width="1"/>
<path d="M20.3 109.5L24.5 105.3L28.7 109.5" stroke="#131722" stroke-width="1.35" fill="none"/>
<!-- KRW box -->
<rect x="1454.5" y="2.5" width="60" height="25" rx="5" fill="#fff" stroke="#e3e3e3" stroke-width="1"/>
<path d="M1502 14L1504.6 16.6L1507.2 14" stroke="#131722" stroke-width="1.2" fill="none"/>
<!-- green label -->
<path d="M1414 79.5H1449.7V96H1414A3 3 0 0 1 1411 93V82.5A3 3 0 0 1 1414 79.5Z" fill="#4caf50"/>
<rect x="1451.3" y="80" width="58.7" height="16" fill="#4caf50"/>
<!-- black crosshair label -->
<path d="M1432 60H1449.7V80.6H1432A3 3 0 0 1 1429 77.6V63A3 3 0 0 1 1432 60Z" fill="#131313"/>
<rect x="1451.3" y="60" width="58.7" height="20.6" fill="#131313"/>
<circle cx="1439.4" cy="70.3" r="7.2" stroke="#fff" stroke-width="1.1" fill="none"/>
<path d="M1439.4 66.2V74.4M1435.3 70.3H1443.5" stroke="#fff" stroke-width="1.2"/>
<!-- date label -->
<rect x="40" y="758" width="92" height="23.3" rx="2.5" fill="#131313"/>
<!-- tv logo mark -->
<path d="M14.2 729.2H25.9V743.7H20.1V734.7H14.2Z" fill="#111"/>
<circle cx="31.05" cy="731.9" r="2.8" fill="#111"/>
<path d="M37 729.2H43.8L38 743.7H31Z" fill="#111"/>
<!-- flash icon -->
<circle cx="1387.55" cy="745.35" r="9.55" fill="#fff" stroke="#9c27b0" stroke-width="1.6"/>
<path d="M1391 740.1L1382.9 745.9H1387.1L1384.1 750.7L1392.1 744.9H1387.8Z" fill="#9c27b0" stroke="#9c27b0" stroke-width="0.5" stroke-linejoin="round"/>
<!-- settings -->
<path d="M1479.8 767H1487.3L1490.4 772.4L1487.3 777.8H1479.8L1476.7 772.4Z" stroke="#131722" stroke-width="1.25" fill="none" stroke-linejoin="round"/>
<circle cx="1483.5" cy="772.4" r="2" stroke="#131722" stroke-width="1.25" fill="none"/>
</svg>
<div class="tx" style="left:32.92px;top:7.60px;font-size:15px;color:#131722;transform:scale(0.9833,1.0000);transform-origin:0 0;">코스피</div>
<div class="tx" style="left:80.00px;top:5.50px;font-size:15px;color:#131722;">·</div>
<div class="tx" style="left:89.76px;top:8.50px;font-size:15px;color:#131722;transform:scale(0.9409,1.0000);transform-origin:0 0;">1날</div>
<div class="tx" style="left:115.50px;top:5.50px;font-size:15px;color:#131722;">·</div>
<div class="tx" style="left:124.19px;top:7.40px;font-size:15px;color:#131722;transform:scale(0.9069,1.0000);transform-origin:0 0;">KRX</div>
<div class="tx" style="left:235.30px;top:8.60px;font-size:13px;color:#131722;">시</div>
<div class="tx" style="left:249.00px;top:8.70px;font-size:13px;color:#f23645;transform:scale(0.9920,1.0000);transform-origin:0 0;">2,471.45</div>
<div class="tx" style="left:304.50px;top:7.90px;font-size:13px;color:#131722;">고</div>
<div class="tx" style="left:318.70px;top:8.70px;font-size:13px;color:#f23645;transform:scale(0.9820,1.0000);transform-origin:0 0;">2,471.45</div>
<div class="tx" style="left:374.00px;top:8.60px;font-size:13px;color:#131722;">저</div>
<div class="tx" style="left:387.70px;top:8.70px;font-size:13px;color:#f23645;">2,434.78</div>
<div class="tx" style="left:443.30px;top:7.60px;font-size:13px;color:#131722;">종</div>
<div class="tx" style="left:457.20px;top:8.70px;font-size:13px;color:#f23645;transform:scale(0.9760,1.0000);transform-origin:0 0;">2,441.85</div>
<div class="tx" style="left:514.00px;top:8.50px;font-size:13px;color:#f23645;transform:scale(0.9479,1.0000);transform-origin:0 0;">−22.15 (−0.90%)</div>
<div class="tx" style="left:21.00px;top:35.30px;font-size:13px;color:#f23645;transform:scale(1.0100,1.0000);transform-origin:0 0;">4,107.50</div>
<div class="tx" style="left:41.50px;top:51.00px;font-size:10.5px;color:#f7525f;">셀</div>
<div class="tx" style="left:91.00px;top:45.00px;font-size:10px;color:#131722;">0.00</div>
<div class="tx" style="left:129.80px;top:35.30px;font-size:13px;color:#2962ff;transform:scale(1.0060,1.0000);transform-origin:0 0;">4,107.50</div>
<div class="tx" style="left:143.50px;top:51.00px;font-size:10.5px;color:#5b8bff;">바이</div>
<div class="tx" style="left:10.79px;top:76.70px;font-size:13px;color:#131722;transform:scale(0.9140,1.0000);transform-origin:0 0;">볼륨 <span style="color:#6a6d78">20</span></div>
<div class="tx" style="left:67.00px;top:75.00px;font-size:13px;font-weight:bold;color:#c8102e;">!</div>
<div class="tx" style="left:1458.40px;top:48.82px;font-size:12px;color:#131722;transform:scale(1.0000,1.0800);transform-origin:0 0;">4,200.00</div>
<div class="tx" style="left:1458.40px;top:115.82px;font-size:12px;color:#131722;transform:scale(1.0000,1.0800);transform-origin:0 0;">4,000.00</div>
<div class="tx" style="left:1458.40px;top:148.82px;font-size:12px;color:#131722;transform:scale(1.0000,1.0800);transform-origin:0 0;">3,900.00</div>
<div class="tx" style="left:1458.40px;top:182.82px;font-size:12px;color:#131722;transform:scale(1.0000,1.0800);transform-origin:0 0;">3,800.00</div>
<div class="tx" style="left:1458.40px;top:215.82px;font-size:12px;color:#131722;transform:scale(1.0000,1.0800);transform-origin:0 0;">3,700.00</div>
<div class="tx" style="left:1458.40px;top:249.82px;font-size:12px;color:#131722;transform:scale(1.0000,1.0800);transform-origin:0 0;">3,600.00</div>
<div class="tx" style="left:1458.40px;top:282.82px;font-size:12px;color:#131722;transform:scale(1.0000,1.0800);transform-origin:0 0;">3,500.00</div>
<div class="tx" style="left:1458.40px;top:316.82px;font-size:12px;color:#131722;transform:scale(1.0000,1.0800);transform-origin:0 0;">3,400.00</div>
<div class="tx" style="left:1458.40px;top:349.82px;font-size:12px;color:#131722;transform:scale(1.0000,1.0800);transform-origin:0 0;">3,300.00</div>
<div class="tx" style="left:1458.40px;top:382.82px;font-size:12px;color:#131722;transform:scale(1.0000,1.0800);transform-origin:0 0;">3,200.00</div>
<div class="tx" style="left:1458.40px;top:416.82px;font-size:12px;color:#131722;transform:scale(1.0000,1.0800);transform-origin:0 0;">3,100.00</div>
<div class="tx" style="left:1458.40px;top:449.82px;font-size:12px;color:#131722;transform:scale(1.0000,1.0800);transform-origin:0 0;">3,000.00</div>
<div class="tx" style="left:1458.40px;top:483.82px;font-size:12px;color:#131722;transform:scale(1.0000,1.0800);transform-origin:0 0;">2,900.00</div>
<div class="tx" style="left:1458.40px;top:516.82px;font-size:12px;color:#131722;transform:scale(1.0000,1.0800);transform-origin:0 0;">2,800.00</div>
<div class="tx" style="left:1458.40px;top:550.82px;font-size:12px;color:#131722;transform:scale(1.0000,1.0800);transform-origin:0 0;">2,700.00</div>
<div class="tx" style="left:1458.40px;top:583.82px;font-size:12px;color:#131722;transform:scale(1.0000,1.0800);transform-origin:0 0;">2,600.00</div>
<div class="tx" style="left:1458.40px;top:616.82px;font-size:12px;color:#131722;transform:scale(1.0000,1.0800);transform-origin:0 0;">2,500.00</div>
<div class="tx" style="left:1458.40px;top:650.82px;font-size:12px;color:#131722;transform:scale(1.0000,1.0800);transform-origin:0 0;">2,400.00</div>
<div class="tx" style="left:1458.40px;top:683.82px;font-size:12px;color:#131722;transform:scale(1.0000,1.0800);transform-origin:0 0;">2,300.00</div>
<div class="tx" style="left:1458.40px;top:717.82px;font-size:12px;color:#131722;transform:scale(1.0000,1.0800);transform-origin:0 0;">2,200.00</div>
<div class="tx" style="left:1457.64px;top:9.00px;font-size:12px;color:#131722;transform:scale(0.8630,1.0000);transform-origin:0 0;">KRW</div>
<div class="tx" style="left:1458.80px;top:64.50px;font-size:12px;font-weight:bold;color:#fff;transform:scale(0.9830,1.0000);transform-origin:0 0;">4,158.69</div>
<div class="tx" style="left:1414.97px;top:81.70px;font-size:12.5px;color:#fff;transform:scale(0.8306,1.0000);transform-origin:0 0;">KOSPI</div>
<div class="tx" style="left:1459.00px;top:81.65px;font-size:12px;color:#fff;transform:scale(0.9787,1.0500);transform-origin:0 0;">4,107.50</div>
<div class="tx" style="left:173.50px;top:766.20px;font-size:12.5px;font-weight:bold;color:#131722;">2025</div>
<div class="tx" style="left:286.50px;top:765.20px;font-size:12px;color:#131722;">2월</div>
<div class="tx" style="left:406.50px;top:765.20px;font-size:12px;color:#131722;">3월</div>
<div class="tx" style="left:526.50px;top:765.20px;font-size:12px;color:#131722;">4월</div>
<div class="tx" style="left:658.50px;top:765.20px;font-size:12px;color:#131722;">5월</div>
<div class="tx" style="left:772.50px;top:765.20px;font-size:12px;color:#131722;">6월</div>
<div class="tx" style="left:886.50px;top:765.20px;font-size:12px;color:#131722;">7월</div>
<div class="tx" style="left:1024.50px;top:765.20px;font-size:12px;color:#131722;">8월</div>
<div class="tx" style="left:1144.50px;top:765.20px;font-size:12px;color:#131722;">9월</div>
<div class="tx" style="left:1273.00px;top:765.20px;font-size:12px;color:#131722;">10월</div>
<div class="tx" style="left:1381.50px;top:765.20px;font-size:12px;color:#131722;">11월</div>
<div class="tx" style="left:49.00px;top:765.50px;font-size:12px;font-weight:bold;color:#fff;transform:scale(0.9455,1.0000);transform-origin:0 0;">목 2024-12-05</div>
<div class="tx" style="left:51.10px;top:727.20px;font-size:20.5px;font-weight:bold;color:#131722;">TradingView</div>
</body></html>
